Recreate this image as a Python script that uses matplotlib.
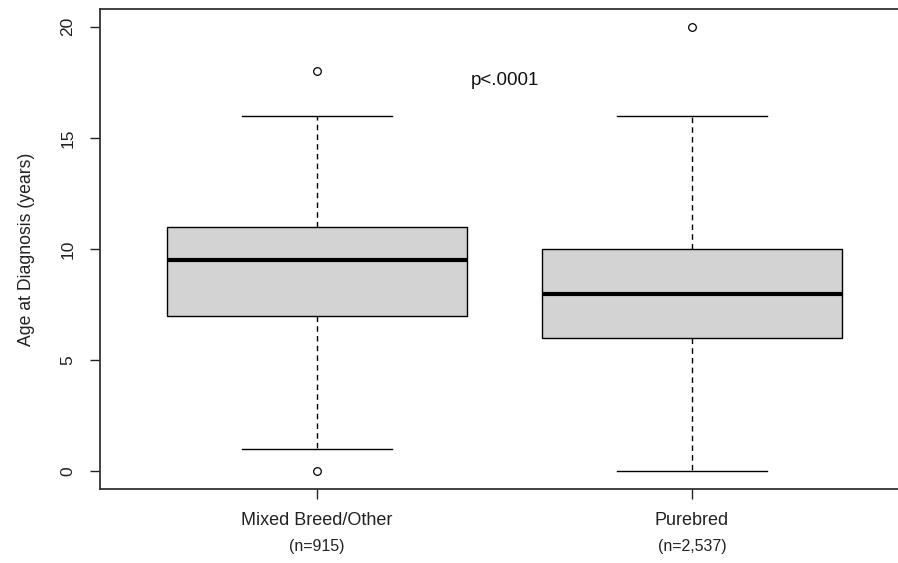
import matplotlib
matplotlib.use("Agg")
import matplotlib.pyplot as plt
import matplotlib.transforms as mtransforms

plt.rcParams['font.family'] = ['Liberation Sans', 'DejaVu Sans']

# five-number summaries (years) read per group
groups = ['Mixed Breed/Other', 'Purebred']
n_labels = ['(n=915)', '(n=2,537)']
whislo = [1, 0]
q1 = [7, 6]
med = [9.5, 8]
q3 = [11, 10]
whishi = [16, 16]
fliers = [[18, 0], [20]]
p_text = 'p<.0001'

stats = []
for i, g in enumerate(groups):
    stats.append(dict(label=g, whislo=whislo[i], q1=q1[i], med=med[i],
                      q3=q3[i], whishi=whishi[i], fliers=fliers[i]))

fig = plt.figure(figsize=(8.98, 5.63), dpi=100)
ax = fig.add_axes([0.111, 0.131, 0.9018, 0.853])

ax.bxp(stats, positions=[1, 2], widths=0.8, patch_artist=True,
       boxprops=dict(facecolor='#d3d3d3', edgecolor='black', linewidth=1),
       medianprops=dict(color='black', linewidth=3),
       whiskerprops=dict(color='black', linewidth=1, linestyle=(0, (4, 3))),
       capprops=dict(color='black', linewidth=1),
       capwidths=0.4,
       flierprops=dict(marker='o', markerfacecolor='none', markeredgecolor='black',
                       markersize=5.5, markeredgewidth=0.9))

ax.set_xlim(0.42, 2.58)
ax.set_ylim(-0.8, 20.8)

ax.set_yticks([0, 5, 10, 15, 20])
ax.set_yticklabels(['0', '5', '10', '15', '20'], rotation=90, va='center')
ax.tick_params(axis='y', length=7.5, width=1, pad=10, labelsize=12.5, colors='#222222')
ax.tick_params(axis='x', length=7.5, width=1, pad=9, labelsize=13, colors='#222222')
ax.set_xticks([1, 2])
ax.set_xticklabels(groups)

# sample sizes under the group names
trans = mtransforms.blended_transform_factory(ax.transData, fig.transFigure)
for x, lab in zip([1, 2], n_labels):
    ax.text(x, 1 - 547 / 563, lab, transform=trans, ha='center', va='center',
            fontsize=11.5, color='#222222')

ax.set_ylabel('Age at Diagnosis (years)', fontsize=12.7, color='#222222', labelpad=18)

ax.text(1.5, 17.6, p_text, ha='center', va='center', fontsize=13.5, color='#111111')

for s in ax.spines.values():
    s.set_linewidth(1.3)
    s.set_color('#333333')

fig.savefig('out.png', dpi=100)
